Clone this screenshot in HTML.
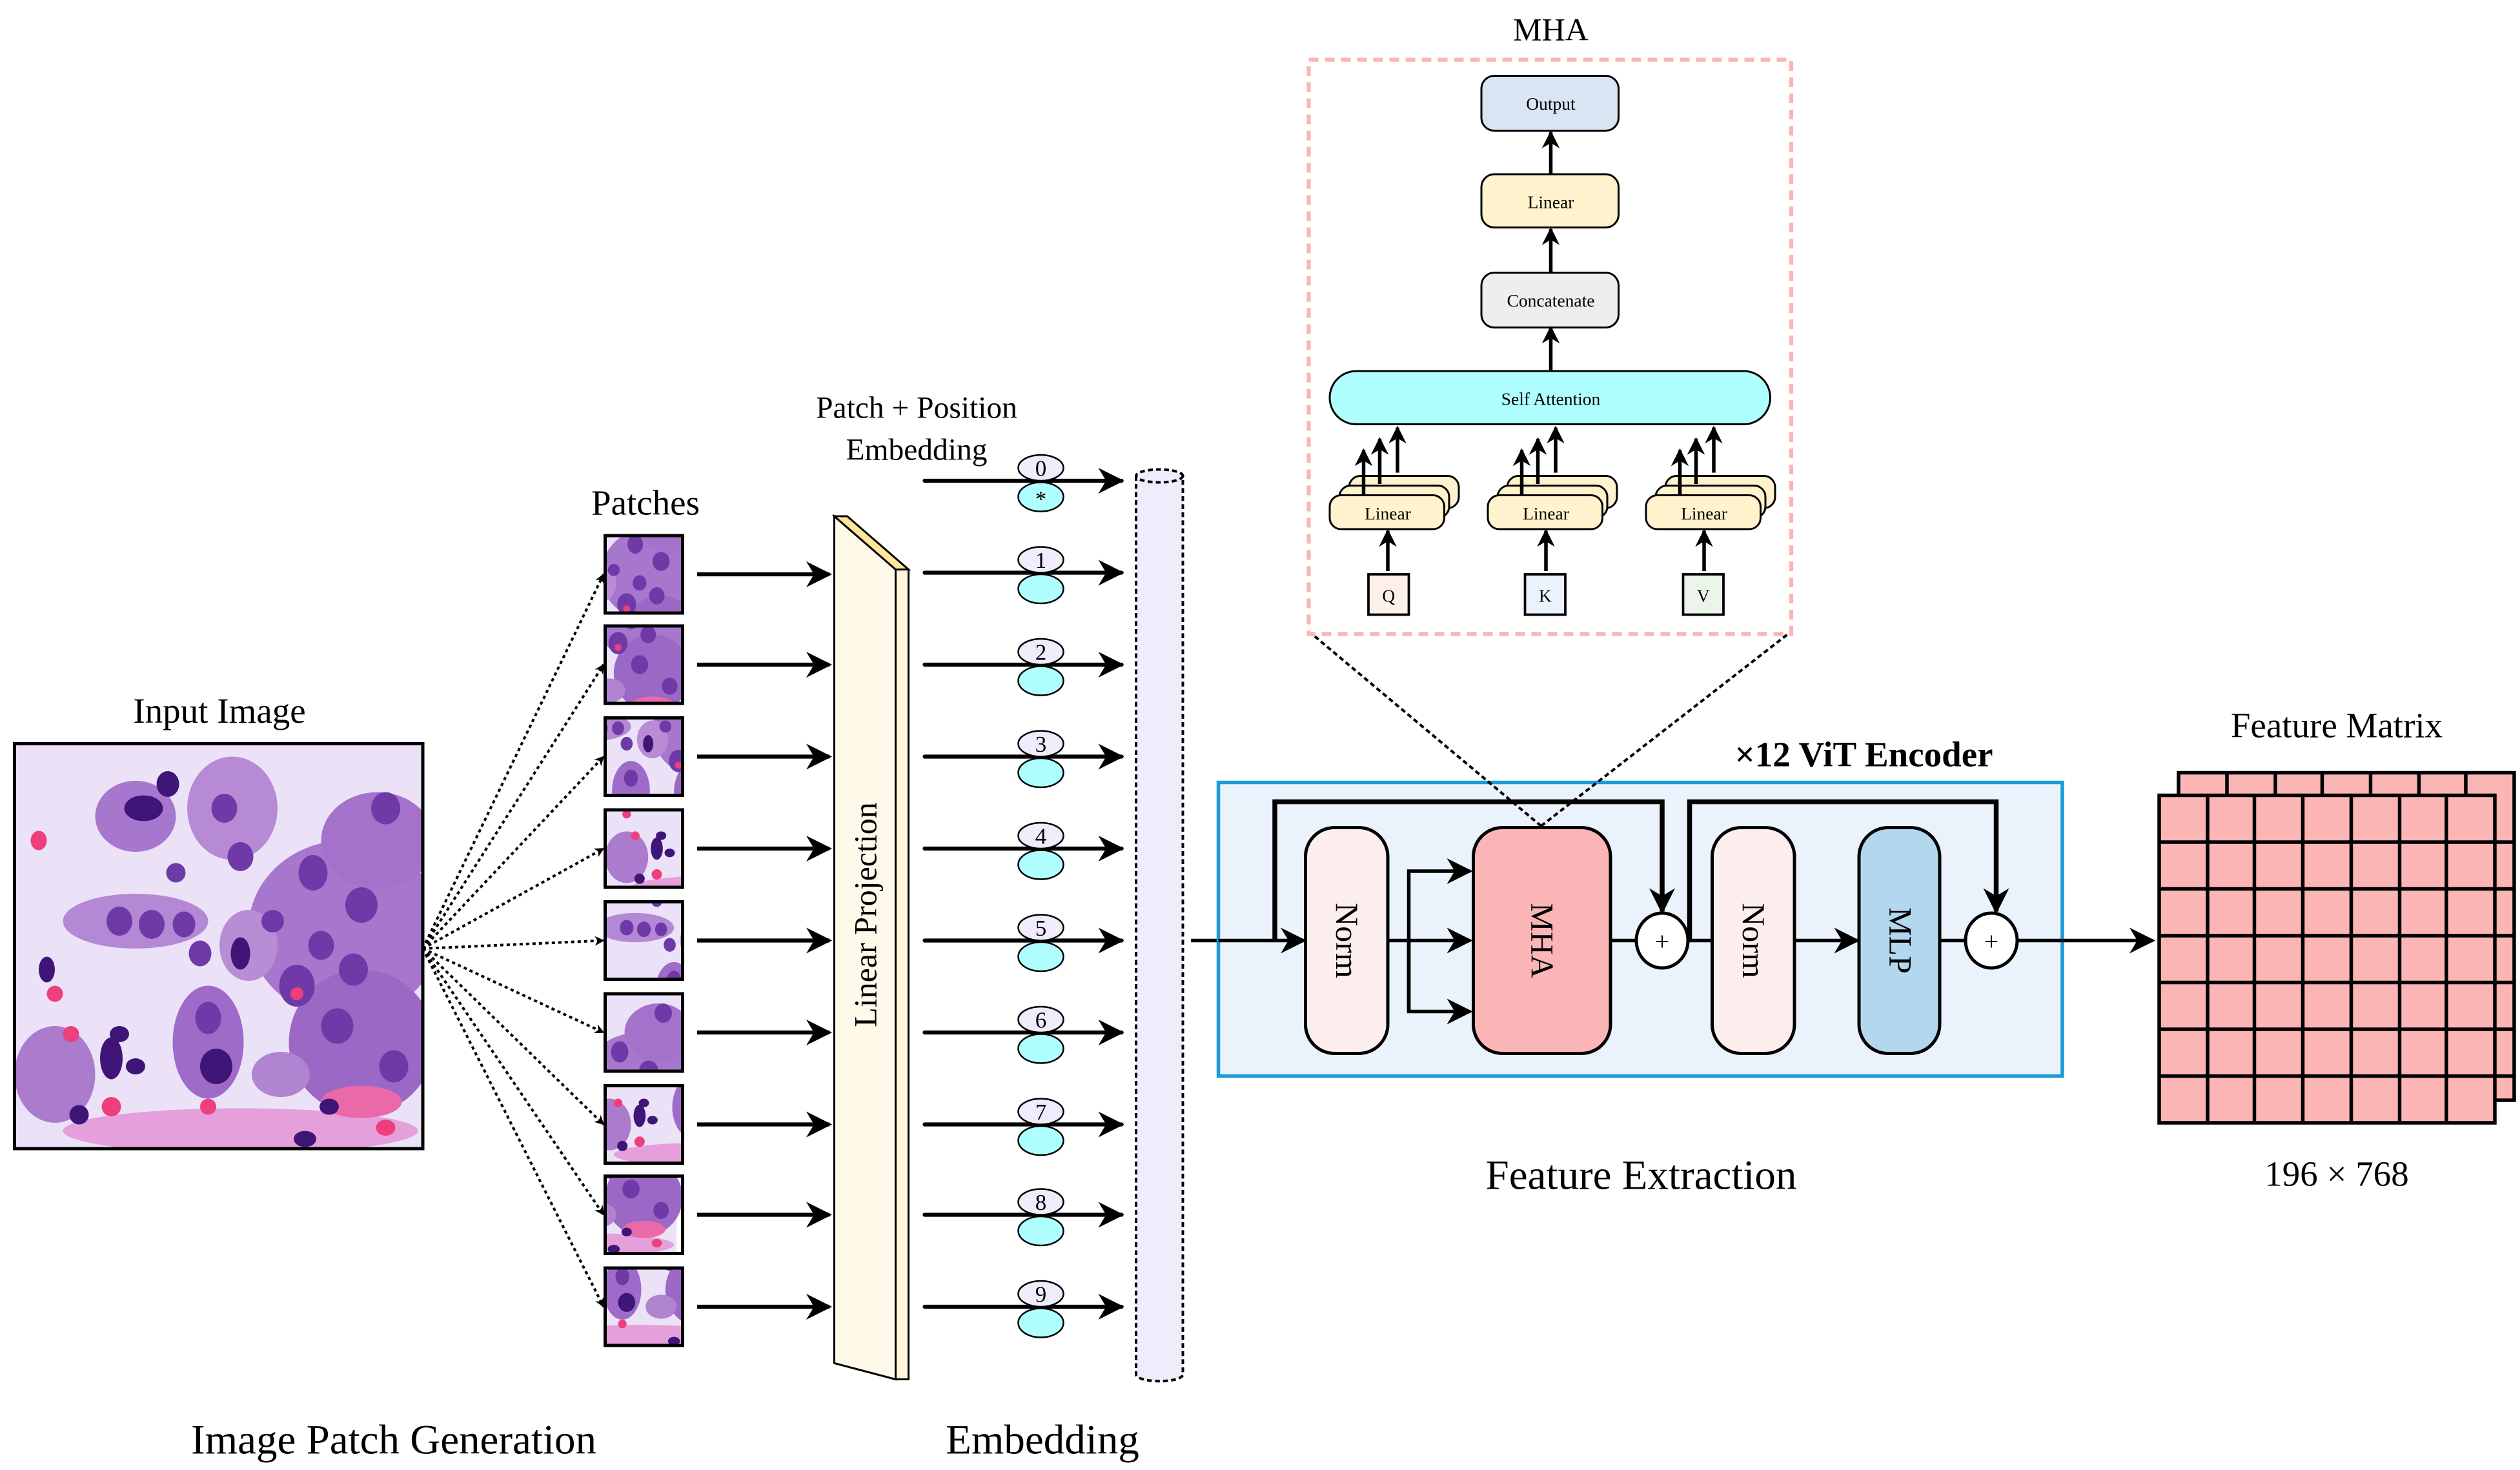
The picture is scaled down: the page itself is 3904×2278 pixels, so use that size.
<!DOCTYPE html>
<html><head><meta charset="utf-8"><style>html,body{margin:0;padding:0;background:#fff}svg{display:block}svg text{font-family:"Liberation Serif","Times New Roman",serif}</style></head>
<body>
<svg xmlns="http://www.w3.org/2000/svg" width="3904" height="2278" viewBox="0 0 1561.6 911.2" style="font-family:'Liberation Serif',serif">
<defs>
<marker id="ah" viewBox="0 0 10 10" refX="9" refY="5" markerWidth="6" markerHeight="6" markerUnits="userSpaceOnUse" orient="auto"><path d="M0,0 L10,5 L0,10 L3,5 z" fill="#000"/></marker>
<marker id="ab" viewBox="0 0 10 10" refX="9" refY="5" markerWidth="16" markerHeight="16" markerUnits="userSpaceOnUse" orient="auto"><path d="M0,0 L10,5 L0,10 L3,5 z" fill="#000"/></marker>
<marker id="as" viewBox="0 0 10 10" refX="9" refY="5" markerWidth="11" markerHeight="11" markerUnits="userSpaceOnUse" orient="auto"><path d="M0,0 L10,5 L0,10 L3,5 z" fill="#000"/></marker>
<clipPath id="ci"><rect x="9" y="461" width="253" height="251"/></clipPath>
<g id="tissue">
<rect x="0" y="0" width="253" height="251" fill="#ebe2f8"/>
<ellipse cx="205" cy="115" rx="60" ry="55" fill="#a677cc"/>
<ellipse cx="225" cy="60" rx="35" ry="30" fill="#a472ca"/>
<ellipse cx="215" cy="185" rx="45" ry="45" fill="#9b68c5"/>
<ellipse cx="75" cy="110" rx="45" ry="17" fill="#b388d4"/>
<ellipse cx="135" cy="40" rx="28" ry="32" fill="#b68ad5"/>
<ellipse cx="75" cy="45" rx="25" ry="22" fill="#a677cc"/>
<ellipse cx="120" cy="185" rx="22" ry="35" fill="#9f6bc8"/>
<ellipse cx="145" cy="125" rx="18" ry="22" fill="#b88dd6"/>
<ellipse cx="25" cy="205" rx="25" ry="30" fill="#ab7bcd"/>
<ellipse cx="140" cy="240" rx="110" ry="14" fill="#e5a0db"/>
<ellipse cx="215" cy="222" rx="25" ry="10" fill="#ea6aa9"/>
<ellipse cx="165" cy="205" rx="18" ry="14" fill="#b084d1"/>
<g fill="#6f3aa8">
<ellipse cx="230" cy="40" rx="9" ry="10"/><ellipse cx="185" cy="80" rx="9" ry="11"/><ellipse cx="215" cy="100" rx="10" ry="11"/>
<ellipse cx="175" cy="150" rx="11" ry="13"/><ellipse cx="200" cy="175" rx="10" ry="11"/><ellipse cx="235" cy="200" rx="9" ry="10"/>
<ellipse cx="65" cy="110" rx="8" ry="9"/><ellipse cx="85" cy="112" rx="8" ry="9"/><ellipse cx="105" cy="112" rx="7" ry="8"/>
<ellipse cx="130" cy="40" rx="8" ry="9"/><ellipse cx="140" cy="70" rx="8" ry="9"/><ellipse cx="120" cy="170" rx="8" ry="10"/>
<ellipse cx="100" cy="80" rx="6" ry="6"/><ellipse cx="115" cy="130" rx="7" ry="8"/><ellipse cx="160" cy="110" rx="7" ry="7"/>
<ellipse cx="210" cy="140" rx="9" ry="10"/><ellipse cx="190" cy="125" rx="8" ry="9"/>
</g>
<g fill="#3f1578">
<ellipse cx="80" cy="40" rx="12" ry="8"/><ellipse cx="125" cy="200" rx="10" ry="11"/><ellipse cx="60" cy="195" rx="7" ry="13"/>
<ellipse cx="65" cy="180" rx="6" ry="5"/><ellipse cx="40" cy="230" rx="6" ry="6"/><ellipse cx="195" cy="225" rx="6" ry="5"/>
<ellipse cx="180" cy="245" rx="7" ry="5"/><ellipse cx="20" cy="140" rx="5" ry="8"/><ellipse cx="140" cy="130" rx="6" ry="10"/>
<ellipse cx="95" cy="25" rx="7" ry="8"/><ellipse cx="75" cy="200" rx="6" ry="5"/>
</g>
<g fill="#ee3f7d">
<ellipse cx="25" cy="155" rx="5" ry="5"/><ellipse cx="35" cy="180" rx="5" ry="5"/><ellipse cx="60" cy="225" rx="6" ry="6"/>
<ellipse cx="15" cy="60" rx="5" ry="6"/><ellipse cx="120" cy="225" rx="5" ry="5"/><ellipse cx="175" cy="155" rx="4" ry="4"/>
<ellipse cx="230" cy="238" rx="6" ry="5"/>
</g>
</g>
</defs>

<g clip-path="url(#ci)"><use href="#tissue" x="9" y="461"/></g>
<rect x="9" y="461" width="253" height="251" fill="none" stroke="#000" stroke-width="2"/>
<text x="136" y="448" font-size="22" text-anchor="middle">Input Image</text>
<text x="400" y="319" font-size="22" text-anchor="middle">Patches</text>

<g stroke="#000">
<g stroke-width="1.6" stroke-dasharray="2,2" fill="none">
<line x1="262" y1="588" x2="374" y2="356" marker-end="url(#ah)"/>
<line x1="262" y1="588" x2="374" y2="412" marker-end="url(#ah)"/>
<line x1="262" y1="588" x2="374" y2="469" marker-end="url(#ah)"/>
<line x1="262" y1="588" x2="374" y2="526" marker-end="url(#ah)"/>
<line x1="262" y1="588" x2="374" y2="583" marker-end="url(#ah)"/>
<line x1="262" y1="588" x2="374" y2="640" marker-end="url(#ah)"/>
<line x1="262" y1="588" x2="374" y2="697" marker-end="url(#ah)"/>
<line x1="262" y1="588" x2="374" y2="753" marker-end="url(#ah)"/>
<line x1="262" y1="588" x2="374" y2="810" marker-end="url(#ah)"/>
</g>
</g>
<g>
<svg x="375" y="332" width="48" height="48" viewBox="150 70 90 90"><use href="#tissue"/></svg>
<svg x="375" y="388" width="48" height="48" viewBox="160 130 90 90"><use href="#tissue"/></svg>
<svg x="375" y="445" width="48" height="48" viewBox="90 100 90 90"><use href="#tissue"/></svg>
<svg x="375" y="502" width="48" height="48" viewBox="0 150 90 90"><use href="#tissue"/></svg>
<svg x="375" y="559" width="48" height="48" viewBox="40 80 90 90"><use href="#tissue"/></svg>
<svg x="375" y="616" width="48" height="48" viewBox="170 20 80 80"><use href="#tissue"/></svg>
<svg x="375" y="673" width="48" height="48" viewBox="20 160 90 90"><use href="#tissue"/></svg>
<svg x="375" y="729" width="48" height="48" viewBox="170 160 90 90"><use href="#tissue"/></svg>
<svg x="375" y="786" width="48" height="48" viewBox="100 160 90 90"><use href="#tissue"/></svg>
</g>
<g fill="none" stroke="#000" stroke-width="2">
<rect x="375" y="332" width="48" height="48"/><rect x="375" y="388" width="48" height="48"/><rect x="375" y="445" width="48" height="48"/>
<rect x="375" y="502" width="48" height="48"/><rect x="375" y="559" width="48" height="48"/><rect x="375" y="616" width="48" height="48"/>
<rect x="375" y="673" width="48" height="48"/><rect x="375" y="729" width="48" height="48"/><rect x="375" y="786" width="48" height="48"/>
</g>
<g stroke="#000" stroke-width="2.5">
<line x1="432" y1="356" x2="514" y2="356" marker-end="url(#ab)"/>
<line x1="432" y1="412" x2="514" y2="412" marker-end="url(#ab)"/>
<line x1="432" y1="469" x2="514" y2="469" marker-end="url(#ab)"/>
<line x1="432" y1="526" x2="514" y2="526" marker-end="url(#ab)"/>
<line x1="432" y1="583" x2="514" y2="583" marker-end="url(#ab)"/>
<line x1="432" y1="640" x2="514" y2="640" marker-end="url(#ab)"/>
<line x1="432" y1="697" x2="514" y2="697" marker-end="url(#ab)"/>
<line x1="432" y1="753" x2="514" y2="753" marker-end="url(#ab)"/>
<line x1="432" y1="810" x2="514" y2="810" marker-end="url(#ab)"/>
</g>

<g stroke="#000" stroke-width="1.2">
<polygon points="517,320 555,353 555,855 517,845" fill="#fff9ea"/>
<polygon points="555,353 563,353 563,855 555,855" fill="#fff6dc"/>
<polygon points="517,320 525,320 563,353 555,353" fill="#fde59a"/>
</g>
<text x="0" y="0" font-size="20" text-anchor="middle" transform="translate(543,567) rotate(-90)">Linear Projection</text>

<text x="568" y="259" font-size="19" text-anchor="middle">Patch + Position</text>
<text x="568" y="285" font-size="19" text-anchor="middle">Embedding</text>
<g stroke="#000" stroke-width="2.5" stroke-linecap="round">
<line x1="573" y1="298" x2="695" y2="298" marker-end="url(#ab)"/>
<line x1="573" y1="355" x2="695" y2="355" marker-end="url(#ab)"/>
<line x1="573" y1="412" x2="695" y2="412" marker-end="url(#ab)"/>
<line x1="573" y1="469" x2="695" y2="469" marker-end="url(#ab)"/>
<line x1="573" y1="526" x2="695" y2="526" marker-end="url(#ab)"/>
<line x1="573" y1="583" x2="695" y2="583" marker-end="url(#ab)"/>
<line x1="573" y1="640" x2="695" y2="640" marker-end="url(#ab)"/>
<line x1="573" y1="697" x2="695" y2="697" marker-end="url(#ab)"/>
<line x1="573" y1="753" x2="695" y2="753" marker-end="url(#ab)"/>
<line x1="573" y1="810" x2="695" y2="810" marker-end="url(#ab)"/>
</g>
<g stroke="#000" stroke-width="1" font-size="14" text-anchor="middle">
<g><ellipse cx="645" cy="290" rx="14" ry="8" fill="#f1ecfb"/><ellipse cx="645" cy="308" rx="14" ry="9" fill="#b0ffff"/><text x="645" y="295" stroke="none">0</text><text x="645" y="314" stroke="none">*</text></g>
<g><ellipse cx="645" cy="347" rx="14" ry="8" fill="#f1ecfb"/><ellipse cx="645" cy="365" rx="14" ry="9" fill="#b0ffff"/><text x="645" y="352" stroke="none">1</text></g>
<g><ellipse cx="645" cy="404" rx="14" ry="8" fill="#f1ecfb"/><ellipse cx="645" cy="422" rx="14" ry="9" fill="#b0ffff"/><text x="645" y="409" stroke="none">2</text></g>
<g><ellipse cx="645" cy="461" rx="14" ry="8" fill="#f1ecfb"/><ellipse cx="645" cy="479" rx="14" ry="9" fill="#b0ffff"/><text x="645" y="466" stroke="none">3</text></g>
<g><ellipse cx="645" cy="518" rx="14" ry="8" fill="#f1ecfb"/><ellipse cx="645" cy="536" rx="14" ry="9" fill="#b0ffff"/><text x="645" y="523" stroke="none">4</text></g>
<g><ellipse cx="645" cy="575" rx="14" ry="8" fill="#f1ecfb"/><ellipse cx="645" cy="593" rx="14" ry="9" fill="#b0ffff"/><text x="645" y="580" stroke="none">5</text></g>
<g><ellipse cx="645" cy="632" rx="14" ry="8" fill="#f1ecfb"/><ellipse cx="645" cy="650" rx="14" ry="9" fill="#b0ffff"/><text x="645" y="637" stroke="none">6</text></g>
<g><ellipse cx="645" cy="689" rx="14" ry="8" fill="#f1ecfb"/><ellipse cx="645" cy="707" rx="14" ry="9" fill="#b0ffff"/><text x="645" y="694" stroke="none">7</text></g>
<g><ellipse cx="645" cy="745" rx="14" ry="8" fill="#f1ecfb"/><ellipse cx="645" cy="763" rx="14" ry="9" fill="#b0ffff"/><text x="645" y="750" stroke="none">8</text></g>
<g><ellipse cx="645" cy="802" rx="14" ry="8" fill="#f1ecfb"/><ellipse cx="645" cy="820" rx="14" ry="9" fill="#b0ffff"/><text x="645" y="807" stroke="none">9</text></g>
</g>
<g stroke="#000" stroke-width="1.6" stroke-dasharray="3,2">
<path d="M704,295 L704,852 A14,4 0 0 0 733,852 L733,295 Z" fill="#f1ecfb"/>
<ellipse cx="718.5" cy="295" rx="14.5" ry="4" fill="#f1ecfb"/>
</g>

<line x1="738" y1="583" x2="808" y2="583" stroke="#000" stroke-width="2.2" marker-end="url(#ab)"/>
<rect x="755" y="485" width="523" height="182" fill="#eaf2fb" stroke="#1e9bd7" stroke-width="2.2"/>
<text x="1155" y="475" font-size="22" font-weight="bold" text-anchor="middle">×12 ViT Encoder</text>
<g stroke="#000" stroke-width="2.2" fill="none">
<line x1="755" y1="583" x2="808" y2="583" marker-end="url(#ab)"/>
<polyline points="790,583 790,497 1030,497 1030,565" stroke-width="3" marker-end="url(#ab)"/>
<polyline points="1047,583 1047,497 1237,497 1237,565" stroke-width="3" marker-end="url(#ab)"/>
<line x1="860" y1="583" x2="911" y2="583" marker-end="url(#ab)"/>
<polyline points="873,627 873,540 911,540" marker-end="url(#ab)"/>
<polyline points="873,583 873,627 911,627" marker-end="url(#ab)"/>
<line x1="998" y1="583" x2="1061" y2="583"/>
<line x1="1112" y1="583" x2="1151" y2="583" marker-end="url(#ab)"/>
<line x1="1202" y1="583" x2="1218" y2="583"/>
<line x1="1250" y1="583" x2="1334" y2="583" marker-end="url(#ab)"/>
</g>
<g stroke="#000" stroke-width="2">
<rect x="809" y="513" width="51" height="140" rx="18" fill="#fdeeee"/>
<rect x="913" y="513" width="85" height="140" rx="18" fill="#fbb5b7"/>
<rect x="1061" y="513" width="51" height="140" rx="18" fill="#fdeeee"/>
<rect x="1152" y="513" width="50" height="140" rx="18" fill="#b3d7ee"/>
<ellipse cx="1030" cy="583" rx="16" ry="17" fill="#fff"/>
<ellipse cx="1234" cy="583" rx="16" ry="17" fill="#fff"/>
</g>
<text x="1030" y="589" font-size="16" text-anchor="middle">+</text>
<text x="1234" y="589" font-size="16" text-anchor="middle">+</text>
<g font-size="20" text-anchor="middle">
<text transform="translate(828,583) rotate(90)">Norm</text>
<text transform="translate(949,583) rotate(90)">MHA</text>
<text transform="translate(1080,583) rotate(90)">Norm</text>
<text transform="translate(1171,583) rotate(90)">MLP</text>
</g>
<g stroke="#000" stroke-width="1.6" stroke-dasharray="3,2" fill="none">
<line x1="955" y1="512" x2="813" y2="393"/>
<line x1="955" y1="512" x2="1108" y2="393"/>
</g>

<text x="961" y="25" font-size="20" text-anchor="middle">MHA</text>
<rect x="811" y="37" width="299" height="356" fill="none" stroke="#fbb5b5" stroke-width="2.5" stroke-dasharray="6,4"/>
<g stroke="#000" stroke-width="1.2" font-size="11" text-anchor="middle">
<rect x="918" y="47" width="85" height="34" rx="8" fill="#dae5f4"/><text x="961" y="68" stroke="none">Output</text>
<rect x="918" y="108" width="85" height="33" rx="8" fill="#fff2cc"/><text x="961" y="129" stroke="none">Linear</text>
<rect x="918" y="169" width="85" height="34" rx="8" fill="#eeeeee"/><text x="961" y="190" stroke="none">Concatenate</text>
<rect x="824" y="230" width="273" height="33" rx="16.5" fill="#b0ffff"/><text x="961" y="251" stroke="none">Self Attention</text>
</g>
<g stroke="#000" stroke-width="2.2">
<line x1="961" y1="108" x2="961" y2="82" marker-end="url(#as)"/>
<line x1="961" y1="169" x2="961" y2="142" marker-end="url(#as)"/>
<line x1="961" y1="230" x2="961" y2="203" marker-end="url(#as)"/>
</g>
<g id="lin">
<g stroke="#000" stroke-width="1.2" fill="#fff2cc">
<rect x="836" y="295" width="68" height="20" rx="7"/>
<rect x="830" y="301" width="68" height="20" rx="7"/>
<rect x="824" y="307" width="71" height="21" rx="7"/>
</g>
<text x="860" y="322" font-size="11" text-anchor="middle">Linear</text>
<g stroke="#000" stroke-width="2.2">
<line x1="845" y1="307" x2="845" y2="279" marker-end="url(#as)"/>
<line x1="855" y1="300" x2="855" y2="272" marker-end="url(#as)"/>
<line x1="866" y1="293" x2="866" y2="265" marker-end="url(#as)"/>
<line x1="860" y1="354" x2="860" y2="329" marker-end="url(#as)"/>
</g>
</g>
<use href="#lin" x="98"/>
<use href="#lin" x="196"/>
<g stroke="#000" stroke-width="1.5" font-size="11" text-anchor="middle">
<rect x="848" y="356" width="25" height="25" fill="#fdf0ea"/><text x="860.5" y="373" stroke="none">Q</text>
<rect x="945" y="356" width="25" height="25" fill="#eaf2fb"/><text x="957.5" y="373" stroke="none">K</text>
<rect x="1043" y="356" width="25" height="25" fill="#ebf5e9"/><text x="1055.5" y="373" stroke="none">V</text>
</g>

<text x="1448" y="457" font-size="22" text-anchor="middle">Feature Matrix</text>
<g stroke="#000" stroke-width="2.2" fill="#fbb5b5">
<rect x="1350" y="479" width="208" height="203"/>
<rect x="1338" y="493" width="208" height="203"/>
</g>
<g stroke="#000" stroke-width="2.2">
<line x1="1380" y1="479" x2="1380" y2="493"/><line x1="1410" y1="479" x2="1410" y2="493"/><line x1="1439" y1="479" x2="1439" y2="493"/><line x1="1469" y1="479" x2="1469" y2="493"/><line x1="1499" y1="479" x2="1499" y2="493"/><line x1="1528" y1="479" x2="1528" y2="493"/>
<line x1="1546" y1="522" x2="1558" y2="522"/><line x1="1546" y1="551" x2="1558" y2="551"/><line x1="1546" y1="580" x2="1558" y2="580"/><line x1="1546" y1="609" x2="1558" y2="609"/><line x1="1546" y1="638" x2="1558" y2="638"/><line x1="1546" y1="667" x2="1558" y2="667"/>
<line x1="1368" y1="493" x2="1368" y2="696"/><line x1="1397" y1="493" x2="1397" y2="696"/><line x1="1427" y1="493" x2="1427" y2="696"/><line x1="1457" y1="493" x2="1457" y2="696"/><line x1="1487" y1="493" x2="1487" y2="696"/><line x1="1516" y1="493" x2="1516" y2="696"/>
<line x1="1338" y1="522" x2="1546" y2="522"/><line x1="1338" y1="551" x2="1546" y2="551"/><line x1="1338" y1="580" x2="1546" y2="580"/><line x1="1338" y1="609" x2="1546" y2="609"/><line x1="1338" y1="638" x2="1546" y2="638"/><line x1="1338" y1="667" x2="1546" y2="667"/>
</g>
<text x="1448" y="735" font-size="22" text-anchor="middle">196 × 768</text>

<text x="1017" y="737" font-size="26" text-anchor="middle">Feature Extraction</text>
<text x="244" y="901" font-size="26" text-anchor="middle">Image Patch Generation</text>
<text x="646" y="901" font-size="26" text-anchor="middle">Embedding</text>
</svg>
</body></html>
